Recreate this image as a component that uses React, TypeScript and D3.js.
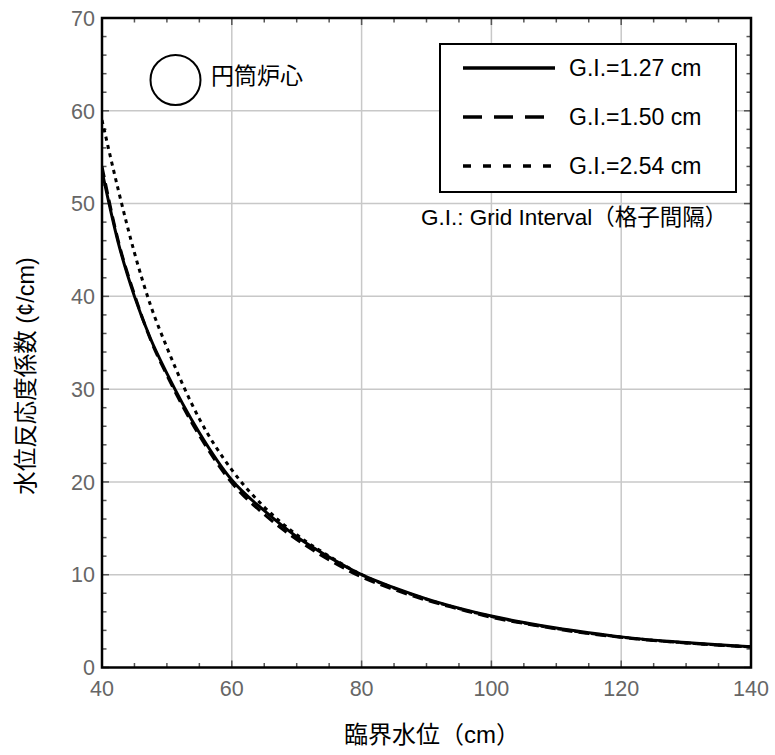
import React from "react";
import * as d3 from "d3";

const xValues = [40, 42.5, 45, 47.5, 50, 55, 60, 65, 70, 75, 80, 85, 90, 95, 100, 105, 110, 115, 120, 125, 130, 135, 140];
const gi127 = [53.5, 45.8, 40.0, 35.4, 31.7, 25.3, 20.2, 16.9, 14.1, 11.9, 10.0, 8.6, 7.4, 6.4, 5.55, 4.85, 4.25, 3.75, 3.3, 2.95, 2.7, 2.45, 2.25];
const gi150 = [54.0, 46.0, 40.2, 35.3, 31.5, 25.0, 19.9, 16.5, 13.8, 11.6, 9.75, 8.4, 7.25, 6.3, 5.4, 4.75, 4.15, 3.65, 3.25, 2.9, 2.65, 2.4, 2.2];
const gi254 = [59.0, 51.5, 44.7, 39.0, 34.5, 26.8, 21.3, 17.3, 14.3, 12.0, 10.0, 8.55, 7.35, 6.35, 5.5, 4.8, 4.2, 3.7, 3.28, 2.92, 2.65, 2.42, 2.22];

const seriesNames = ["G.I.=1.27 cm", "G.I.=1.50 cm", "G.I.=2.54 cm"];
const xTicks = [40, 60, 80, 100, 120, 140];
const yTicks = [0, 10, 20, 30, 40, 50, 60, 70];

const FONT = "'Liberation Sans', Arial, 'Noto Sans CJK JP', sans-serif";

export default function App() {
  const W = 775, H = 755;
  const x0 = 102, x1 = 751, y0 = 667.5, y1 = 18;
  const x = d3.scaleLinear().domain([40, 140]).range([x0, x1]);
  const y = d3.scaleLinear().domain([0, 70]).range([y0, y1]);

  const series = [
    { name: seriesNames[0], values: gi127, dash: "none", legendDash: "none" },
    { name: seriesNames[1], values: gi150, dash: "11,6", legendDash: "19,12" },
    { name: seriesNames[2], values: gi254, dash: "4,4.5", legendDash: "8,12" },
  ];

  const line = d3
    .line<[number, number]>()
    .x((d) => x(d[0]))
    .y((d) => y(d[1]))
    .curve(d3.curveMonotoneX);

  const xMinor = d3.range(40, 140.01, 5);
  const yMinor = d3.range(0, 70.01, 2);

  return (
    <svg
      width={W}
      height={H}
      style={{ position: "absolute", left: 0, top: 0, background: "#fff" }}
      fontFamily={FONT}
    >
      <defs>
        <clipPath id="plotclip">
          <rect x={x0} y={y1} width={x1 - x0} height={y0 - y1} />
        </clipPath>
      </defs>
      {/* grid */}
      {xTicks.slice(1, -1).map((t) => (
        <line key={"gx" + t} x1={x(t)} x2={x(t)} y1={y1} y2={y0} stroke="#c8c8c8" strokeWidth={1.5} />
      ))}
      {yTicks.slice(1, -1).map((t) => (
        <line key={"gy" + t} x1={x0} x2={x1} y1={y(t)} y2={y(t)} stroke="#c8c8c8" strokeWidth={1.5} />
      ))}
      {/* ticks */}
      {xMinor.map((t) => {
        const major = xTicks.includes(t);
        const len = major ? 7 : 4.5;
        return (
          <g key={"xm" + t}>
            <line x1={x(t)} x2={x(t)} y1={y0} y2={y0 - len} stroke="#555" strokeWidth={1.5} />
            <line x1={x(t)} x2={x(t)} y1={y1} y2={y1 + len} stroke="#555" strokeWidth={1.5} />
          </g>
        );
      })}
      {yMinor.map((t) => {
        const major = t % 10 === 0;
        const len = major ? 7 : 4.5;
        return (
          <g key={"ym" + t}>
            <line x1={x0} x2={x0 + len} y1={y(t)} y2={y(t)} stroke="#555" strokeWidth={1.5} />
            <line x1={x1} x2={x1 - len} y1={y(t)} y2={y(t)} stroke="#555" strokeWidth={1.5} />
          </g>
        );
      })}
      {/* curves */}
      <g clipPath="url(#plotclip)">
        {series.map((s) => (
          <path
            key={s.name}
            d={line(xValues.map((xv, i) => [xv, s.values[i]] as [number, number])) || ""}
            fill="none"
            stroke="#000"
            strokeWidth={3}
            strokeDasharray={s.dash}
          />
        ))}
      </g>
      {/* frame */}
      <rect x={x0} y={y1} width={x1 - x0} height={y0 - y1} fill="none" stroke="#000" strokeWidth={2.5} />
      {/* tick labels */}
      {xTicks.map((t) => (
        <text key={"xl" + t} x={x(t)} y={696} textAnchor="middle" fontSize={21.5} fill="#666">
          {t}
        </text>
      ))}
      {yTicks.map((t) => (
        <text key={"yl" + t} x={95} y={y(t)} dy="0.36em" textAnchor="end" fontSize={21.5} fill="#666">
          {t}
        </text>
      ))}
      {/* axis titles */}
      <text x={432} y={734} dy="0.36em" textAnchor="middle" fontSize={24} fill="#000">
        臨界水位（cm）
      </text>
      <text
        transform={`translate(26, 376) rotate(-90)`}
        dy="0.36em"
        textAnchor="middle"
        fontSize={23.5}
        fill="#000"
      >
        水位反応度係数 (¢/cm)
      </text>
      {/* circle annotation */}
      <circle cx={175.5} cy={80} r={25} fill="none" stroke="#000" strokeWidth={2} />
      <text x={211} y={76} dy="0.36em" fontSize={23} fill="#000">
        円筒炉心
      </text>
      {/* legend */}
      <rect x={440} y={44} width={296} height={148} fill="#fff" stroke="#000" strokeWidth={2} />
      {series.map((s, i) => {
        const ly = 68 + i * 49;
        return (
          <g key={"lg" + i}>
            <line x1={463} x2={555} y1={ly} y2={ly} stroke="#000" strokeWidth={3.5} strokeDasharray={s.legendDash} />
            <text x={569} y={ly} dy="0.36em" fontSize={23} fill="#000">
              {s.name}
            </text>
          </g>
        );
      })}
      <text x={421} y={217} dy="0.36em" fontSize={22.5} fill="#000">
        G.I.: Grid Interval（格子間隔）
      </text>
    </svg>
  );
}
